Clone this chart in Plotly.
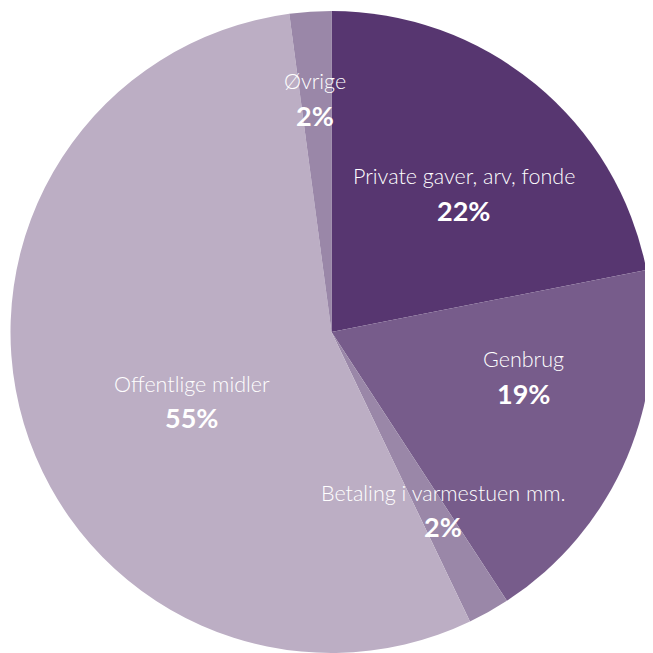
import math
import plotly.graph_objects as go

# Data
categories = ["Private gaver, arv, fonde", "Genbrug", "Betaling i varmestuen mm.",
              "Offentlige midler", "Øvrige"]
values = [21.9, 18.9, 2.1, 55.0, 2.1]
colors = ["#573670", "#775c8b", "#9a87a8", "#bcaec4", "#9a87a8"]

# Label placement (style): radial fraction and angular nudge (degrees) per slice
label_rf = [0.597, 0.615, 0.654, 0.485, 0.73]
label_dang = [4.3, -9.9, -2.8, -9.7, -0.3]

W, H = 653, 653
ml, mr, mt, mb = 2, 8, 3, 8   # page body has an 8px offset
pw, ph = W - ml - mr, H - mt - mb
R = min(pw, ph) / 2.0

fig = go.Figure(go.Pie(
    labels=categories, values=values, sort=False, direction="clockwise",
    rotation=0, marker=dict(colors=colors, line=dict(width=0)),
    textinfo="none", hoverinfo="label+percent", showlegend=False,
))

total = sum(values)
cum = 0.0
annotations = []
for i, (cat, v) in enumerate(zip(categories, values)):
    mid = (cum + v / 2.0) / total * 360.0 + label_dang[i]
    cum += v
    a = math.radians(mid)
    dx = label_rf[i] * R * math.sin(a)
    dy = label_rf[i] * R * math.cos(a)
    x = 0.5 + dx / pw
    y = 0.5 + dy / ph
    pct = f"{round(v / total * 100)}%"
    annotations.append(dict(x=x, y=y, xref="paper", yref="paper", text=cat,
                            xanchor="center", yanchor="middle",
                            showarrow=False, yshift=17,
                            font=dict(family="Lato", size=21.5, color="white", weight=300)))
    annotations.append(dict(x=x, y=y, xref="paper", yref="paper", text=f"<b>{pct}</b>",
                            xanchor="center", yanchor="middle",
                            showarrow=False, yshift=-17,
                            font=dict(family="Lato", size=27, color="white", weight=900)))

fig.update_layout(
    width=W, height=H,
    margin=dict(l=ml, r=mr, t=mt, b=mb),
    paper_bgcolor="white", plot_bgcolor="white",
    annotations=annotations,
)

fig.write_html("out.html")
